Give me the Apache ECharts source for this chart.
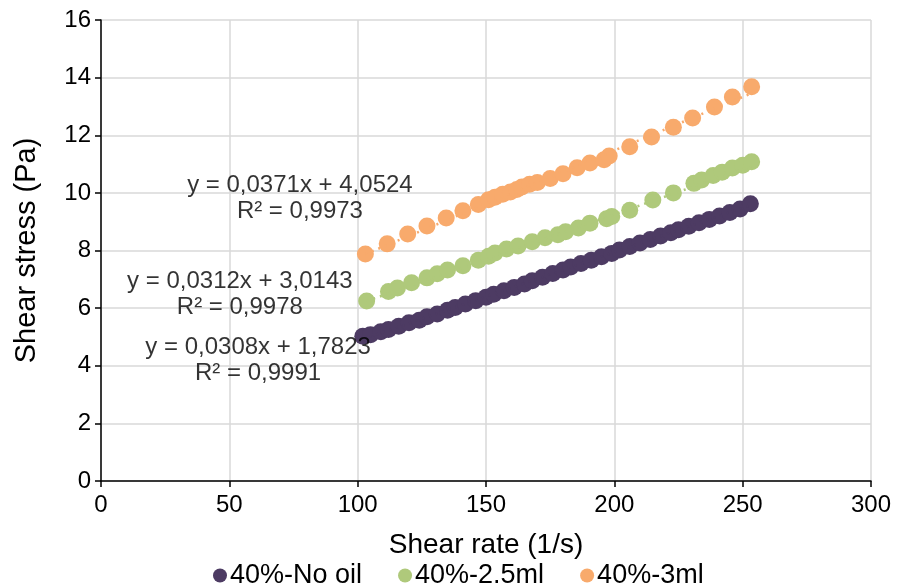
<!DOCTYPE html>
<html>
<head>
<meta charset="utf-8">
<script src="https://cdn.jsdelivr.net/npm/echarts@6/dist/echarts.min.js"></script>
<style>
  html, body { margin: 0; padding: 0; background: #fff; }
  #chart { width: 897px; height: 587px; }
</style>
</head>
<body>
<div id="chart"></div>
<script>
// Series names and colours
const seriesNames = ['40%-No oil', '40%-2.5ml', '40%-3ml'];
const seriesColors = ['#4d3b63', '#afc97b', '#f8aa6c'];

// Measured points: shear rate (1/s) and shear stress (Pa)
const noOilRate = [102, 105, 109, 112, 116, 120, 124, 127, 131, 135, 138, 142, 146, 150, 153, 157, 161, 165, 168, 172, 176, 180, 183, 187, 191, 195, 199, 202, 206, 210, 214, 218, 222, 225, 229, 233, 237, 241, 245, 249, 253];
const noOilStress = [5.02, 5.08, 5.18, 5.26, 5.37, 5.49, 5.58, 5.70, 5.80, 5.93, 6.02, 6.14, 6.26, 6.38, 6.48, 6.60, 6.72, 6.84, 6.95, 7.07, 7.20, 7.32, 7.43, 7.55, 7.66, 7.78, 7.90, 8.02, 8.14, 8.26, 8.38, 8.50, 8.62, 8.72, 8.84, 8.96, 9.08, 9.20, 9.32, 9.44, 9.62];

const oil25Rate = [103.5, 112, 115.5, 121, 127, 131, 135, 141, 147, 151, 153.5, 158, 162.5, 168, 173, 178, 181, 186, 190.5, 197, 199, 206, 215, 223, 231, 234, 238.5, 242, 246, 250, 253.5];
const oil25Stress = [6.25, 6.58, 6.70, 6.88, 7.05, 7.19, 7.32, 7.47, 7.66, 7.80, 7.91, 8.05, 8.16, 8.30, 8.44, 8.55, 8.65, 8.78, 8.95, 9.10, 9.18, 9.40, 9.75, 10.00, 10.33, 10.45, 10.60, 10.72, 10.86, 10.96, 11.08];

const oil3Rate = [103, 111.5, 119.5, 127, 134.5, 141, 147, 151, 153.5, 156.5, 159.5, 162, 164, 167, 170, 175, 180, 185.5, 190.5, 196, 198, 206, 214.5, 223, 230.5, 239, 246, 253.5];
const oil3Stress = [7.88, 8.23, 8.57, 8.85, 9.13, 9.38, 9.60, 9.76, 9.85, 9.95, 10.03, 10.12, 10.20, 10.30, 10.36, 10.50, 10.66, 10.87, 11.04, 11.15, 11.28, 11.60, 11.94, 12.28, 12.60, 12.98, 13.33, 13.68];

// Linear fits (slope, intercept) and their printed equations
const fitSlopes = [0.0308, 0.0312, 0.0371];
const fitIntercepts = [1.7823, 3.0143, 4.0524];
const fitLabels = [
  'y = 0,0308x + 1,7823\nR² = 0,9991',
  'y = 0,0312x + 3,0143\nR² = 0,9978',
  'y = 0,0371x + 4,0524\nR² = 0,9973'
];
// Anchor (data coordinates) for each equation block
const fitLabelX = [61.2, 54.1, 77.5];
const fitLabelY = [4.18, 6.46, 9.81];

// Axis ticks
const xTicks = { min: 0, max: 300, step: 50 };
const yTicks = { min: 0, max: 16, step: 2 };

const rates = [noOilRate, oil25Rate, oil3Rate];
const stresses = [noOilStress, oil25Stress, oil3Stress];

const FONT = '"Liberation Sans", Arial, sans-serif';
const TXT = '#000000';

const series = [];
for (let i = 0; i < 3; i++) {
  series.push({
    name: seriesNames[i],
    type: 'scatter',
    symbol: 'circle',
    symbolSize: 17,
    itemStyle: { color: seriesColors[i], opacity: 1 },
    data: rates[i].map((x, k) => [x, stresses[i][k]]),
    z: 3
  });
}
for (let i = 0; i < 3; i++) {
  const x0 = Math.min(...rates[i]);
  const x1 = Math.max(...rates[i]);
  series.push({
    name: seriesNames[i] + ' fit',
    type: 'line',
    symbol: 'none',
    silent: true,
    lineStyle: { color: seriesColors[i], width: 2.5, type: [2, 5] },
    data: [[x0, fitSlopes[i] * x0 + fitIntercepts[i]], [x1, fitSlopes[i] * x1 + fitIntercepts[i]]],
    z: 4
  });
}
series.push({
  name: 'equations',
  type: 'scatter',
  symbolSize: 0,
  silent: true,
  data: fitLabels.map((t, i) => ({ value: [fitLabelX[i], fitLabelY[i]], text: t })),
  label: {
    show: true,
    position: 'inside',
    formatter: p => p.data.text,
    fontFamily: FONT,
    fontSize: 24,
    lineHeight: 26,
    color: TXT,
    align: 'center',
    verticalAlign: 'middle'
  },
  z: 5
});

const chart = echarts.init(document.getElementById('chart'), null, { renderer: 'canvas' });
chart.setOption({
  animation: false,
  backgroundColor: '#ffffff',
  textStyle: { fontFamily: FONT },
  grid: { left: 101, right: 26, top: 20, bottom: 106, containLabel: false },
  legend: {
    data: seriesNames,
    top: 557,
    left: 208,
    icon: 'circle',
    itemWidth: 14,
    itemHeight: 14,
    itemGap: 36,
    textStyle: { fontFamily: FONT, fontSize: 27, color: TXT, padding: [0, 0, 0, -2] }
  },
  xAxis: {
    type: 'value',
    min: xTicks.min, max: xTicks.max, interval: xTicks.step,
    name: 'Shear rate (1/s)',
    nameLocation: 'middle',
    nameGap: 50,
    nameTextStyle: { fontFamily: FONT, fontSize: 28, color: TXT },
    axisLine: { show: true, lineStyle: { color: '#000', width: 1.5 } },
    axisTick: { show: true, inside: false, length: 6, lineStyle: { color: '#000', width: 1.5 } },
    axisLabel: { fontFamily: FONT, fontSize: 24, color: TXT, margin: 12 },
    splitLine: { show: true, lineStyle: { color: '#d9d9d9', width: 1.5 } }
  },
  yAxis: {
    type: 'value',
    min: yTicks.min, max: yTicks.max, interval: yTicks.step,
    name: 'Shear stress (Pa)',
    nameLocation: 'middle',
    nameGap: 60,
    nameTextStyle: { fontFamily: FONT, fontSize: 29, color: TXT },
    axisLine: { show: true, lineStyle: { color: '#000', width: 1.5 } },
    axisTick: { show: true, inside: false, length: 6, lineStyle: { color: '#000', width: 1.5 } },
    axisLabel: { fontFamily: FONT, fontSize: 24, color: TXT, margin: 10 },
    splitLine: { show: true, lineStyle: { color: '#d9d9d9', width: 1.5 } }
  },
  series: series
});
</script>
</body>
</html>
